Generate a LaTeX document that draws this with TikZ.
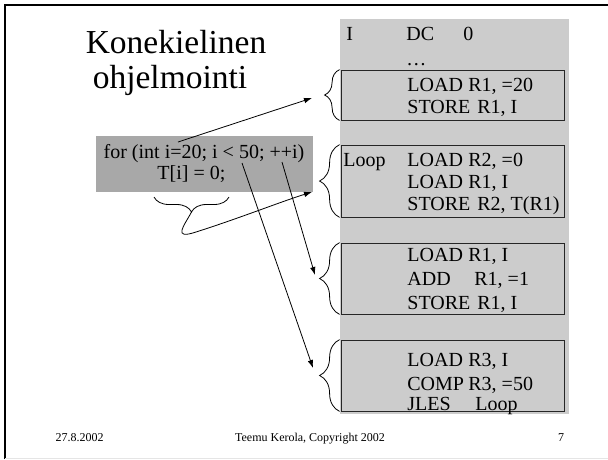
\documentclass[tikz,border=0pt]{standalone}
\usepackage{fontspec}
\setmainfont{Liberation Serif}
\usetikzlibrary{arrows.meta,decorations.pathreplacing}
\definecolor{columngrey}{gray}{0.8}
\definecolor{codegrey}{gray}{0.66}
\begin{document}
\begin{tikzpicture}[x=1pt, y=-1pt, line width=0.8pt,
  txt/.style={inner sep=0pt, anchor=base west, font=\fontsize{20}{20}\selectfont},
  mid/.style={inner sep=0pt, anchor=base},
  box/.style={draw=black!85, minimum width=223pt, inner sep=0pt},
  arr/.style={-{Latex[length=8pt,width=5.5pt]}},
  curly/.style={decorate, decoration={brace, amplitude=#1}}]
  \useasboundingbox (0,0) rectangle (608,459);
  \fill[columngrey] (340,19) rectangle (569,414);
  \fill[codegrey] (96,136) rectangle (313,192);
  \draw[line width=2.5pt] (5,459) -- (5,5) -- (608,5);
  \draw[black!10] (5,458) -- (608,458);
  \node[mid, font=\fontsize{33.5}{37}\selectfont] (title1) at (176,53) {Konekielinen};
  \node[mid, font=\fontsize{33.5}{37}\selectfont] (title2) at (170,88) {ohjelmointi};
  \node[mid, font=\fontsize{20}{20}\selectfont] (for) at (204,158) {for (int i=20; i < 50; ++i)};
  \node[txt] (body) at (157,179) {T[i] = 0;};
  \node[txt] (var) at (346,40.5) {I};
  \node[txt] (dc) at (406,40.5) {DC};
  \node[txt] (zero) at (463,40.5) {0};
  \node[txt] (dots) at (406,65) {…};
  \node[box, minimum height=50pt] (b1) at (452.5,95) {};
  \node[box, minimum height=72pt] (b2) at (452.5,181) {};
  \node[box, minimum height=71pt] (b3) at (452.5,278.5) {};
  \node[box, minimum height=71pt] (b4) at (452.5,375.5) {};
  \node[txt] (loop) at (343,166) {Loop};
  \foreach \y/\m/\x/\o [count=\i] in {91/LOAD/468/{R1, =20}, 113/STORE/477/{R1, I},
      166/LOAD/468/{R2, =0}, 188/LOAD/468/{R1, I}, 210/STORE/477/{R2, T(R1)},
      261/LOAD/468/{R1, I}, 285.5/ADD/474/{R1, =1}, 309/STORE/477/{R1, I},
      366/LOAD/468/{R3, I}, 390/COMP/468/{R3, =50}, 410/JLES/475/Loop}
    {\node[txt] (op\i) at (407,\y) {\m};
     \node[txt] (arg\i) at (\x,\y) {\o};}
  \draw[curly=15pt] ([xshift=-1pt]b1.south west) -- ([xshift=-1pt]b1.north west);
  \draw[curly=20pt] ([xshift=-1pt]b2.south west) -- ([xshift=-1pt]b2.north west);
  \draw[curly=20pt] ([xshift=-1pt]b3.south west) -- ([xshift=-1pt]b3.north west);
  \draw[curly=20pt] ([xshift=-1pt]b4.south west) -- ([xshift=-1pt]b4.north west);
  \coordinate (bodyR) at (229,197);
  \coordinate (bodyL) at (154,197);
  \coordinate (bodyTip) at (191.5,212);
  \draw[curly=15pt] (bodyR) -- (bodyL);
  \coordinate (init) at (178,142);
  \coordinate (test) at (242,163);
  \coordinate (incr) at (282,162);
  \coordinate (tip1) at (312,98);
  \coordinate (tip2) at (312,192);
  \coordinate (tip3) at (315,275);
  \coordinate (tip4) at (313,368);
  \draw[arr] (init) -- (tip1);
  \draw[arr] (bodyTip) .. controls (184,226) and (172,240) .. (196,232)
    .. controls (240,218) and (280,202) .. (tip2);
  \draw[arr] (incr) -- (tip3);
  \draw[arr] (test) -- (tip4);
  \node[mid, font=\fontsize{12}{12}\selectfont] (date) at (79.5,441) {27.8.2002};
  \node[mid, font=\fontsize{12}{12}\selectfont] (credit) at (310,441) {Teemu Kerola, Copyright 2002};
  \node[mid, font=\fontsize{12}{12}\selectfont] (page) at (561,441) {7};
\end{tikzpicture}
\end{document}
